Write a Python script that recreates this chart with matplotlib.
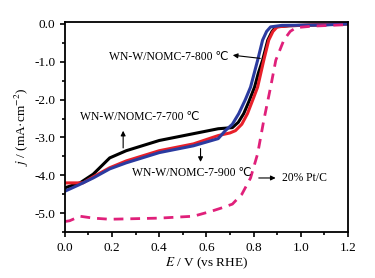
import matplotlib
matplotlib.use('Agg')
import matplotlib.pyplot as plt
from matplotlib.ticker import MultipleLocator, FormatStrFormatter

plt.rcParams['font.family'] = ['Liberation Serif', 'DejaVu Sans']
plt.rcParams['mathtext.fontset'] = 'stix'
plt.rcParams['axes.unicode_minus'] = False

# WN-W/NOMC-7-700
e_700 = [0.0, 0.064, 0.12, 0.19, 0.26, 0.40, 0.545, 0.65, 0.71, 0.735, 0.758, 0.78, 0.804, 0.82, 0.838, 0.86, 0.878, 0.894, 0.95, 1.2]
j_700 = [-4.33, -4.2, -3.97, -3.54, -3.35, -3.08, -2.9, -2.77, -2.74, -2.6, -2.37, -2.05, -1.67, -1.3, -0.96, -0.43, -0.2, -0.08, -0.05, 0.0]

# WN-W/NOMC-7-800
e_800 = [0.0, 0.077, 0.12, 0.19, 0.26, 0.40, 0.545, 0.65, 0.70, 0.723, 0.75, 0.774, 0.80, 0.817, 0.843, 0.864, 0.882, 0.90, 0.95, 1.2]
j_800 = [-4.2, -4.2, -4.04, -3.8, -3.62, -3.35, -3.17, -2.95, -2.88, -2.82, -2.65, -2.37, -1.95, -1.67, -0.96, -0.43, -0.2, -0.08, -0.05, 0.0]

# WN-W/NOMC-7-900
e_900 = [0.0, 0.06, 0.12, 0.19, 0.26, 0.40, 0.545, 0.65, 0.68, 0.71, 0.737, 0.765, 0.787, 0.817, 0.838, 0.855, 0.872, 0.92, 1.1, 1.2]
j_900 = [-4.42, -4.25, -4.07, -3.83, -3.67, -3.4, -3.22, -3.03, -2.82, -2.65, -2.37, -2.0, -1.67, -0.96, -0.43, -0.2, -0.08, -0.04, -0.03, 0.0]

# 20% Pt/C
e_pt = [0.0, 0.02, 0.064, 0.12, 0.19, 0.40, 0.545, 0.62, 0.66, 0.71, 0.75, 0.787, 0.817, 0.843, 0.872, 0.894, 0.928, 0.955, 0.98, 1.05, 1.2]
j_pt = [-5.22, -5.2, -5.08, -5.13, -5.16, -5.13, -5.08, -4.95, -4.87, -4.76, -4.5, -4.07, -3.43, -2.55, -1.67, -0.96, -0.43, -0.2, -0.1, -0.06, -0.02]

fig = plt.figure(figsize=(3.75, 2.78), dpi=100)
ax = fig.add_axes([0.173, 0.165, 0.755, 0.756])

ax.plot(e_700, j_700, color='black', lw=2.2)
ax.plot(e_800, j_800, color='#e8202a', lw=2.2)
ax.plot(e_900, j_900, color='#2b3ba0', lw=2.2)
ax.plot(e_pt, j_pt, color='#e0207a', lw=2.0, dashes=(3.5, 2.5))

ax.set_xlim(0.0, 1.2)
ax.set_ylim(-5.5, 0.05)
ax.xaxis.set_major_locator(MultipleLocator(0.2))
ax.xaxis.set_minor_locator(MultipleLocator(0.1))
ax.yaxis.set_major_locator(MultipleLocator(1.0))
ax.yaxis.set_minor_locator(MultipleLocator(0.5))
ax.xaxis.set_major_formatter(FormatStrFormatter('%.1f'))
ax.yaxis.set_major_formatter(FormatStrFormatter('%.1f'))
ax.tick_params(which='both', direction='out', top=False, right=False, labelsize=9.5, width=1.2)
ax.tick_params(which='major', length=3.5)
ax.tick_params(which='minor', length=2)
for s in ax.spines.values():
    s.set_linewidth(1.3)

ax.set_xlabel('$E$ / V (vs RHE)', fontsize=9.5, labelpad=1)
ax.set_ylabel('$j$ / (mA·cm$^{-2}$)', fontsize=9.5, labelpad=2)

fs = 8.4
arrow = dict(arrowstyle='-|>', color='black', lw=0.8, mutation_scale=7)
ax.text(0.693, -0.88, 'WN-W/NOMC-7-800 ℃', fontsize=fs, ha='right', va='center')
ax.annotate('', xy=(0.70, -0.82), xytext=(0.84, -0.92), arrowprops=arrow)
ax.text(0.315, -2.47, 'WN-W/NOMC-7-700 ℃', fontsize=fs, ha='center', va='center')
ax.annotate('', xy=(0.247, -2.75), xytext=(0.247, -3.35), arrowprops=arrow)
ax.text(0.537, -3.94, 'WN-W/NOMC-7-900 ℃', fontsize=fs, ha='center', va='center')
ax.annotate('', xy=(0.575, -3.72), xytext=(0.575, -3.22), arrowprops=arrow)
ax.text(0.92, -4.07, '20% Pt/C', fontsize=fs, ha='left', va='center')
ax.annotate('', xy=(0.905, -4.07), xytext=(0.81, -4.07), arrowprops=arrow)

fig.savefig('out.png', dpi=100)
